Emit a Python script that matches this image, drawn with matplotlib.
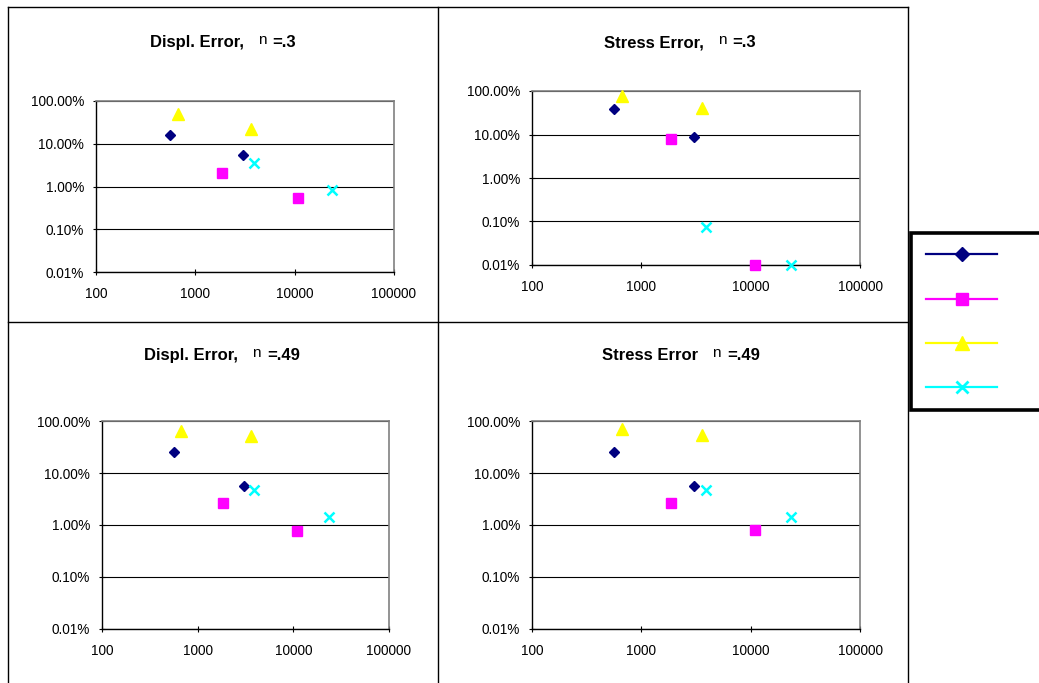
import matplotlib
matplotlib.use("Agg")
import matplotlib.pyplot as plt
from matplotlib.lines import Line2D
from matplotlib.ticker import FixedLocator, NullLocator

plt.rcParams["font.family"] = ["Liberation Sans", "DejaVu Sans"]

# element counts per series (shared by all four panels)
x_diamond = [560, 3040]
x_square = [1860, 10900]
x_triangle = [665, 3610]
x_cross = [3880, 23500]

# relative errors
displ_03 = {"diamond": [0.16, 0.055], "square": [0.021, 0.0053],
            "triangle": [0.50, 0.225], "cross": [0.035, 0.0081]}
stress_03 = {"diamond": [0.38, 0.086], "square": [0.080, 0.0001],
             "triangle": [0.77, 0.40], "cross": [0.00074, 0.0001]}
displ_049 = {"diamond": [0.253, 0.0555], "square": [0.0261, 0.0078],
             "triangle": [0.64, 0.515], "cross": [0.047, 0.0145]}
stress_049 = {"diamond": [0.253, 0.0555], "square": [0.0263, 0.0079],
              "triangle": [0.69, 0.53], "cross": [0.048, 0.0145]}

# titles split as (text, symbol, value) -- the symbol is set smaller and raised
titles = [("Displ. Error,", "n", "=.3"),
          ("Stress Error,", "n", "=.3"),
          ("Displ. Error,", "n", "=.49"),
          ("Stress Error", "n", "=.49")]
y_ticks = [0.0001, 0.001, 0.01, 0.1, 1.0]
y_ticklabels = ["0.01%", "0.10%", "1.00%", "10.00%", "100.00%"]
x_ticks = [100, 1000, 10000, 100000]
x_ticklabels = ["100", "1000", "10000", "100000"]

XS = {"diamond": x_diamond, "square": x_square, "triangle": x_triangle, "cross": x_cross}
STYLE = {
    "diamond": dict(marker="D", color="#000080", ms=5.2),
    "square": dict(marker="s", color="#FF00FF", ms=7),
    "triangle": dict(marker="^", color="#FFFF00", ms=8.5),
    "cross": dict(marker="x", color="#00FFFF", ms=7, mew=1.8),
}

W, H = 1039, 683
fig = plt.figure(figsize=(W / 100, H / 100), dpi=100)
renderer = fig.canvas.get_renderer()


def frac(left, top, right, bottom):
    return [left / W, 1 - bottom / H, (right - left) / W, (bottom - top) / H]


def title_text(cx, cy, parts):
    # lay the three pieces out side by side, centred on (cx, cy) in pixels
    pre, sym, post = parts
    pieces = [(pre, dict(fontsize=12, fontweight="bold"), 0, 14),
              (sym, dict(fontsize=11, fontweight="normal"), 3, 6),
              (post, dict(fontsize=12, fontweight="bold"), 0, 0)]
    texts = []
    for s, kw, dy, gap in pieces:
        t = fig.text(0, 0, s, ha="left", va="baseline", **kw)
        texts.append((t, dy, gap))
    widths = [t.get_window_extent(renderer).width + gap for t, _, gap in texts]
    x = cx - sum(widths) / 2
    for (t, dy, _), w in zip(texts, widths):
        t.set_position((x / W, 1 - (cy + 5 - dy) / H))
        x += w


panels = [
    (displ_03, frac(96, 101, 394, 272), (223, 42)),
    (stress_03, frac(532, 91, 860, 265), (680, 42)),
    (displ_049, frac(102, 421, 389, 629), (222, 355)),
    (stress_049, frac(532, 421, 860, 629), (681, 355)),
]

for (data, rect, (tx, ty)), parts in zip(panels, titles):
    ax = fig.add_axes(rect)
    for key, st in STYLE.items():
        ax.plot(XS[key], data[key], linestyle="none", clip_on=False, zorder=5,
                markeredgecolor=st["color"], **st)
    ax.set_xscale("log")
    ax.set_yscale("log")
    ax.set_xlim(100, 100000)
    ax.set_ylim(0.0001, 1.0)
    ax.xaxis.set_major_locator(FixedLocator(x_ticks))
    ax.xaxis.set_minor_locator(NullLocator())
    ax.yaxis.set_major_locator(FixedLocator(y_ticks))
    ax.yaxis.set_minor_locator(NullLocator())
    ax.set_xticklabels(x_ticklabels)
    ax.set_yticklabels(y_ticklabels)
    ax.tick_params(direction="inout", length=5, width=0.8, labelsize=9.8)
    ax.tick_params(axis="x", pad=8)
    ax.tick_params(axis="y", pad=6)
    ax.grid(axis="y", color="black", lw=0.8)
    for s in ("top", "right"):
        ax.spines[s].set_color("#808080")
        ax.spines[s].set_linewidth(1.2)
    for s in ("left", "bottom"):
        ax.spines[s].set_linewidth(1.0)
    title_text(tx, ty, parts)


# panel frame lines
def fline(x0, y0, x1, y1):
    fig.add_artist(Line2D([x0 / W, x1 / W], [1 - y0 / H, 1 - y1 / H],
                          color="black", lw=1.0, transform=fig.transFigure))


fline(8, 7, 908, 7)
fline(8, 7, 8, H + 5)
fline(908, 7, 908, H + 5)
fline(438, 7, 438, H + 5)
fline(8, 322, 908, 322)

# legend (labels are blank in the source chart)
handles = [
    Line2D([], [], color="#000080", marker="D", ms=7, lw=1.6),
    Line2D([], [], color="#FF00FF", marker="s", ms=9, lw=1.6),
    Line2D([], [], color="#FFFF00", marker="^", ms=10, lw=1.6),
    Line2D([], [], color="#00FFFF", marker="x", ms=9, mew=2, lw=1.6),
]
leg = fig.legend(handles, ["", "", "", ""], loc="upper left",
                 bbox_to_anchor=(911 / W, 1 - 233 / H), borderaxespad=0,
                 fontsize=10, handlelength=5.1, handletextpad=2.7,
                 borderpad=1.1, labelspacing=2.18, fancybox=False, framealpha=1)
leg.get_frame().set_edgecolor("black")
leg.get_frame().set_linewidth(2.6)

fig.savefig("out.png", dpi=100)
